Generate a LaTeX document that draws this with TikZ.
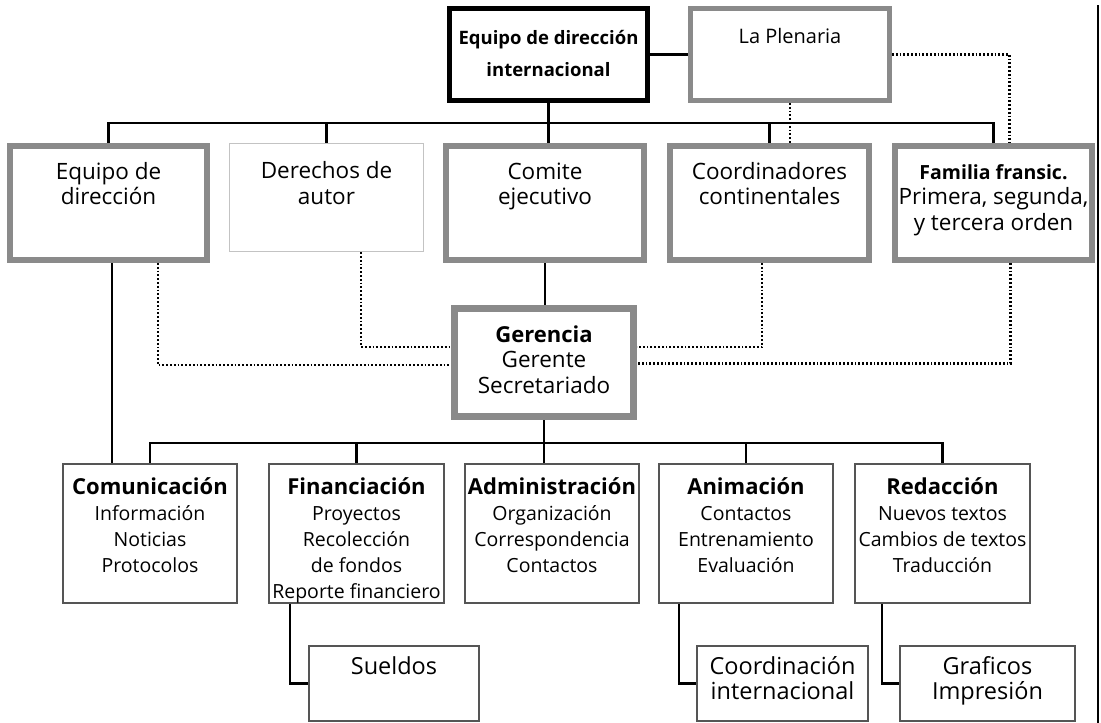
\documentclass[tikz,border=0pt]{standalone}
\usepackage{fontspec}
\setmainfont{Open Sans}
\usetikzlibrary{positioning}
\usetikzlibrary{backgrounds}

\definecolor{gris}{RGB}{138,138,138}
\definecolor{grisclaro}{RGB}{195,195,195}
\definecolor{oscuro}{RGB}{85,85,85}

% caja con texto arriba: ancho, alto, linea base, texto
\newcommand{\caja}[4]{\parbox[c][#2][t]{#1}{\centering\rule{0pt}{#3}#4}}
\newcommand{\titulo}[1]{{\fontsize{22}{25.5}\selectfont\bfseries #1}}

\tikzset{
  intbox/.style={draw=black, line width=5pt, fill=white, inner sep=0pt},
  grisbox/.style={draw=gris, line width=6pt, fill=white, inner sep=0pt},
  clarobox/.style={draw=grisclaro, line width=1.5pt, fill=white, inner sep=0pt},
  unidadbox/.style={draw=oscuro, line width=2pt, fill=white, inner sep=0pt,
    font=\fontsize{19.5}{26}\selectfont},
  subbox/.style={unidadbox, font=\fontsize{23.5}{25}\selectfont},
  linea/.style={draw=black, line width=2.8pt},
  punteado/.style={draw=black, line width=2.4pt, dash pattern=on 1.8pt off 2pt},
}

\begin{document}
\begin{tikzpicture}[x=1pt, y=-1pt, font=\fontsize{22.5}{25.5}\selectfont]
  \useasboundingbox (0,0) rectangle (1101,723);
  % arriba
  \node [intbox] (edi) at (548.5,54.5) {\caja{198pt}{92pt}{35.5pt}{\fontsize{18.5}{32}\selectfont\bfseries Equipo de dirección\\internacional}};
  \node [grisbox, line width=5pt] (plenaria) at (790,54.5) {\caja{199pt}{92pt}{35pt}{\fontsize{20}{25}\selectfont La Plenaria}};
  % segunda fila
  \node [grisbox] (eqdir) at (108.5,203) {\caja{197pt}{114pt}{33pt}{Equipo de\\dirección}};
  \node [clarobox] (derechos) at (326.5,197.5) {\caja{194pt}{108pt}{35pt}{Derechos de\\autor}};
  \node [grisbox] (comite) at (545,203) {\caja{198pt}{114pt}{33pt}{Comite\\ejecutivo}};
  \node [grisbox] (coord) at (769.5,203) {\caja{199pt}{114pt}{33pt}{Coordinadores\\continentales}};
  \node [grisbox] (familia) at (993.5,203) {\caja{197pt}{114pt}{33pt}{{\fontsize{19.5}{25}\selectfont\bfseries Familia fransic.}\\Primera, segunda,\\y tercera orden}};
  % gerencia
  \node [grisbox, line width=7pt] (ger) at (544,362.5) {\caja{179pt}{108pt}{33.5pt}{\titulo{Gerencia}\\Gerente\\Secretariado}};
  % unidades
  \node [unidadbox] (com) at (150,533.5) {\caja{174pt}{139pt}{30.5pt}{\titulo{Comunicación}\\Información\\Noticias\\Protocolos}};
  \node [unidadbox] (fin) at (356.5,533.5) {\caja{175pt}{139pt}{30.5pt}{\titulo{Financiación}\\Proyectos\\Recolección\\de fondos\\Reporte financiero}};
  \node [unidadbox] (adm) at (552,533.5) {\caja{174pt}{139pt}{30.5pt}{\titulo{Administración}\\Organización\\Correspondencia\\Contactos}};
  \node [unidadbox] (ani) at (746,533.5) {\caja{174pt}{139pt}{30.5pt}{\titulo{Animación}\\Contactos\\Entrenamiento\\Evaluación}};
  \node [unidadbox] (red) at (942.5,533.5) {\caja{175pt}{139pt}{30.5pt}{\titulo{Redacción}\\Nuevos textos\\Cambios de textos\\Traducción}};
  % sub unidades
  \node [subbox] (sueldos) at (394,683.5) {\caja{170pt}{75pt}{28.5pt}{Sueldos}};
  \node [subbox] (coordint) at (782.5,683.5) {\caja{171pt}{75pt}{28.5pt}{Coordinación\\internacional}};
  \node [subbox] (graf) at (987.5,683.5) {\caja{175pt}{75pt}{28.5pt}{Graficos\\Impresión}};

  \coordinate (bus1) at (547,123);
  \coordinate (bus2) at (545,443);
  \begin{scope}[on background layer]
    \draw [linea] (edi) -- (plenaria);
    \draw [linea] (eqdir.north) |- (bus1) -| (familia.north);
    \draw [linea] (derechos.north) -- (derechos.north |- bus1);
    \draw [linea] (coord.north) -- (coord.north |- bus1);
    \draw [linea] (edi.south) -- (edi.south |- comite.north);
    \draw [linea] (comite.south) -- (comite.south |- ger.north);
    \draw [linea] (com.north) |- (bus2) -| (red.north);
    \draw [linea] (fin.north) -- (fin.north |- bus2);
    \draw [linea] (ani.north) -- (ani.north |- bus2);
    \draw [linea] (ger.south) -- (ger.south |- adm.north);
    \draw [linea] (eqdir.south) ++(3.5,0) coordinate (c1) -- (c1 |- com.north);
    \draw [linea] (fin.south) ++(-66.5,0) |- (sueldos.west);
    \draw [linea] (ani.south) ++(-67,0) |- (coordint.west);
    \draw [linea] (red.south) ++(-60.5,0) |- (graf.west);
    % punteados
    \draw [punteado] (plenaria.east) -| ([xshift=16pt]familia.north);
    \draw [punteado] (plenaria.south) -- (plenaria.south |- coord.north);
    \draw [punteado] (eqdir.south) ++(49.5,0) |- ([yshift=-2.5pt]ger.west);
    \draw [punteado] (derechos.south) ++(34.5,0) |- ([yshift=15.5pt]ger.west);
    \draw [punteado] (coord.south) ++(-7.5,0) |- ([yshift=15.5pt]ger.east);
    \draw [punteado] (familia.south) ++(17,0) |- ([yshift=-1pt]ger.east);
  \end{scope}
  \draw [line width=2pt] (1097.5,5) -- (1097.5,723);
\end{tikzpicture}
\end{document}
